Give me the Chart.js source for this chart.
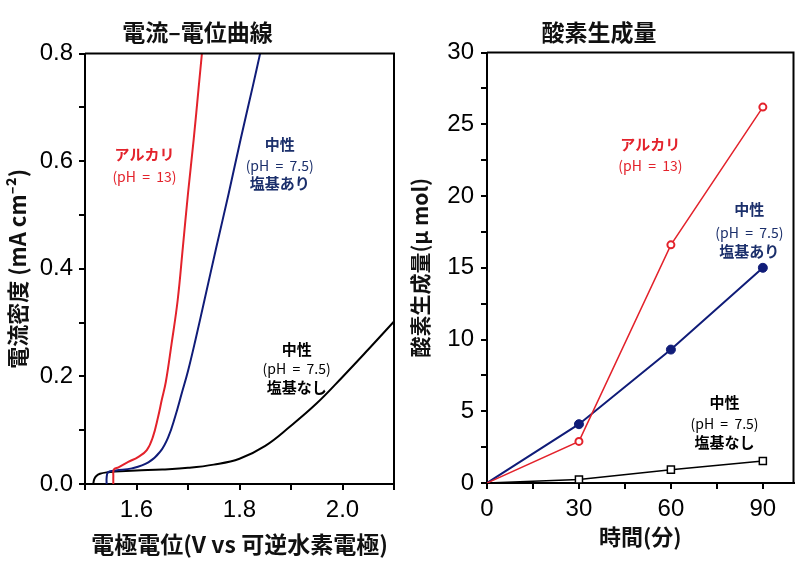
<!DOCTYPE html>
<html>
<head>
<meta charset="utf-8">
<script src="https://cdn.jsdelivr.net/npm/chart.js@4.4.0/dist/chart.umd.min.js"></script>
<style>
html, body { margin: 0; padding: 0; background: #fff; }
#wrap { position: relative; width: 800px; height: 574px; }
canvas { position: absolute; top: 0; }
</style>
</head>
<body>
<div id="wrap">
  <canvas id="cv" width="400" height="574" style="left:0"></canvas>
  <canvas id="o2" width="400" height="574" style="left:400px"></canvas>
</div>
<script>
'use strict';
// 電流-電位曲線 (V vs RHE / mA cm^-2)
var alkaliV = [1.555, 1.555, 1.556, 1.565, 1.584, 1.603, 1.62, 1.632, 1.642, 1.649, 1.657, 1.668, 1.68, 1.69, 1.7, 1.711, 1.721, 1.727];
var alkaliJ = [0, 0.015, 0.027, 0.031, 0.041, 0.05, 0.063, 0.088, 0.125, 0.156, 0.19, 0.26, 0.342, 0.44, 0.54, 0.64, 0.74, 0.8];
var baseV = [1.542, 1.542, 1.545, 1.56, 1.591, 1.623, 1.646, 1.662, 1.675, 1.688, 1.7, 1.715, 1.732, 1.755, 1.779, 1.802, 1.826, 1.84];
var baseJ = [0, 0.012, 0.022, 0.025, 0.029, 0.04, 0.06, 0.088, 0.125, 0.169, 0.21, 0.27, 0.342, 0.44, 0.54, 0.64, 0.74, 0.8];
var neutralV = [1.516, 1.518, 1.522, 1.529, 1.545, 1.558, 1.6, 1.65, 1.7, 1.75, 1.8, 1.85, 1.897, 1.95, 2.0, 2.05, 2.1];
var neutralJ = [0, 0.009, 0.015, 0.019, 0.022, 0.023, 0.025, 0.027, 0.03, 0.036, 0.047, 0.071, 0.106, 0.15, 0.199, 0.25, 0.302];

// 酸素生成量 (分 / μmol)
var minutes = [0, 30, 60, 90];
var o2Alkali = [0, 2.9, 16.6, 26.2];
var o2Base = [0, 4.1, 9.3, 15.0];
var o2Neutral = [0, 0.25, 0.93, 1.53];

var alkaliNote = ['アルカリ', '(pH = 13)'];
var baseNote = ['中性', '(pH = 7.5)', '塩基あり'];
var neutralNote = ['中性', '(pH = 7.5)', '塩基なし'];

var RED = '#e3222b';
var NAVY = '#101c78';
var NAVY_TXT = '#1b2f6b';
var JP = "'Noto Sans CJK JP', 'Noto Sans', sans-serif";
var NUM = "'Liberation Sans', Arial, sans-serif";

function pairs(xs, ys) {
    return xs.map(function(x, i) { return {x: x, y: ys[i]}; });
}

// top/right frame
var framePlugin = {
    id: 'frame',
    afterDatasetsDraw: function(chart) {
        var a = chart.chartArea, ctx = chart.ctx;
        ctx.save();
        ctx.strokeStyle = '#000';
        ctx.lineWidth = 2;
        ctx.beginPath();
        ctx.moveTo(a.left, a.top);
        ctx.lineTo(a.right, a.top);
        ctx.lineTo(a.right, a.bottom);
        ctx.stroke();
        ctx.restore();
    }
};

// in-plot labels, anchored in data units
var notePlugin = {
    id: 'notes',
    afterDatasetsDraw: function(chart, args, opts) {
        var ctx = chart.ctx;
        var xs = chart.scales.x, ys = chart.scales.y;
        ctx.save();
        ctx.textAlign = 'center';
        ctx.textBaseline = 'middle';
        (opts.items || []).forEach(function(n) {
            var px = xs.getPixelForValue(n.x);
            var py = ys.getPixelForValue(n.y);
            n.lines.forEach(function(t, i) {
                var small = t.charAt(0) === '(';
                ctx.font = small ? '14px ' + JP : 'bold 15px ' + JP;
                ctx.fillStyle = n.color;
                ctx.fillText(small ? t.replace(/ /g, '  ') : t, px, py + n.gaps[i]);
            });
        });
        ctx.restore();
    }
};

function tickAxis(extra) {
    var base = {
        border: {display: true, color: '#000', width: 2},
        grid: {drawOnChartArea: false, drawTicks: true, tickLength: 6, tickColor: '#000', lineWidth: 2}
    };
    return Object.assign(base, extra);
}

function evenTenths(v) {
    var k = Math.round(v * 10);
    return (k % 2 === 0) ? (k / 10).toFixed(1) : '';
}

new Chart(document.getElementById('cv'), {
    type: 'scatter',
    data: {
        datasets: [
            {data: pairs(alkaliV, alkaliJ), showLine: true, tension: 0.4, borderColor: RED, borderWidth: 2, pointRadius: 0},
            {data: pairs(baseV, baseJ), showLine: true, tension: 0.4, borderColor: NAVY, borderWidth: 2, pointRadius: 0},
            {data: pairs(neutralV, neutralJ), showLine: true, tension: 0.4, borderColor: '#000', borderWidth: 2, pointRadius: 0}
        ]
    },
    options: {
        responsive: false,
        animation: false,
        layout: {padding: {left: 0, right: 5, top: 0, bottom: 0}},
        plugins: {
            legend: {display: false},
            tooltip: {enabled: false},
            title: {display: true, text: '電流–電位曲線', color: '#111', font: {family: JP, size: 23, weight: 'bold'}, padding: {top: 18, bottom: 8}},
            notes: {items: [
                {x: 1.6155, y: 0.612, lines: alkaliNote, gaps: [0, 22], color: RED},
                {x: 1.878, y: 0.631, lines: baseNote, gaps: [0, 21, 39], color: NAVY_TXT},
                {x: 1.911, y: 0.251, lines: neutralNote, gaps: [0, 20, 38], color: '#000'}
            ]}
        },
        scales: {
            x: tickAxis({
                type: 'linear', min: 1.5, max: 2.1,
                afterFit: function(s) { s.height = 90; },
                title: {display: true, text: '電極電位(V vs 可逆水素電極)', color: '#111', font: {family: JP, size: 23, weight: 'bold'}, padding: {top: 0, bottom: 16}},
                ticks: {color: '#000', font: {family: NUM, size: 24}, padding: 6, autoSkip: false, maxRotation: 0, stepSize: 0.1, callback: evenTenths}
            }),
            y: tickAxis({
                type: 'linear', min: 0, max: 0.8,
                afterFit: function(s) { s.width = 85; },
                title: {display: true, text: '電流密度 (mA cm⁻²)', color: '#111', font: {family: JP, size: 22, weight: 'bold'}, padding: {top: 4, bottom: 0}},
                ticks: {color: '#000', font: {family: NUM, size: 24}, padding: 6, autoSkip: false, stepSize: 0.1, callback: evenTenths}
            })
        }
    },
    plugins: [framePlugin, notePlugin]
});

function hideFirst(r) {
    return function(ctx) { return ctx.dataIndex === 0 ? 0 : r; };
}

new Chart(document.getElementById('o2'), {
    type: 'scatter',
    data: {
        datasets: [
            {data: pairs(minutes, o2Alkali), showLine: true, borderColor: RED, borderWidth: 1.5,
                pointStyle: 'circle', pointRadius: hideFirst(3.5), pointBackgroundColor: '#fff', pointBorderColor: RED, pointBorderWidth: 2},
            {data: pairs(minutes, o2Base), showLine: true, borderColor: NAVY, borderWidth: 2,
                pointStyle: 'circle', pointRadius: hideFirst(4.5), pointBackgroundColor: NAVY, pointBorderColor: NAVY, pointBorderWidth: 1},
            {data: pairs(minutes, o2Neutral), showLine: true, borderColor: '#000', borderWidth: 1.5,
                pointStyle: 'rect', pointRadius: hideFirst(5), pointBackgroundColor: '#fff', pointBorderColor: '#000', pointBorderWidth: 1.5}
        ]
    },
    options: {
        responsive: false,
        animation: false,
        layout: {padding: {left: 0, right: 2, top: 0, bottom: 0}},
        plugins: {
            legend: {display: false},
            tooltip: {enabled: false},
            title: {display: true, text: '酸素生成量', color: '#111', font: {family: JP, size: 23, weight: 'bold'}, padding: {top: 18, bottom: 7}},
            notes: {items: [
                {x: 53.3, y: 23.6, lines: alkaliNote, gaps: [0, 21], color: RED},
                {x: 85.6, y: 19.05, lines: baseNote, gaps: [0, 23, 42], color: NAVY_TXT},
                {x: 77.5, y: 5.65, lines: neutralNote, gaps: [0, 22, 40], color: '#000'}
            ]}
        },
        scales: {
            x: tickAxis({
                type: 'linear', min: 0, max: 100,
                afterFit: function(s) { s.height = 91; },
                title: {display: true, text: '時間(分)', color: '#111', font: {family: JP, size: 22, weight: 'bold'}, padding: {top: 0, bottom: 24}},
                ticks: {color: '#000', font: {family: NUM, size: 24}, padding: 6, autoSkip: false, maxRotation: 0, stepSize: 15, includeBounds: false,
                    callback: function(v) { return v % 30 === 0 ? String(v) : ''; }}
            }),
            y: tickAxis({
                type: 'linear', min: 0, max: 30,
                afterFit: function(s) { s.width = 87; },
                title: {display: true, text: '酸素生成量(μ mol)', color: '#111', font: {family: JP, size: 21, weight: 'bold'}, padding: {top: 7, bottom: 0}},
                ticks: {color: '#000', font: {family: NUM, size: 24}, padding: 7, autoSkip: false, stepSize: 2.5,
                    callback: function(v) { return v % 5 === 0 ? String(v) : ''; }}
            })
        }
    },
    plugins: [framePlugin, notePlugin]
});
</script>
</body>
</html>
